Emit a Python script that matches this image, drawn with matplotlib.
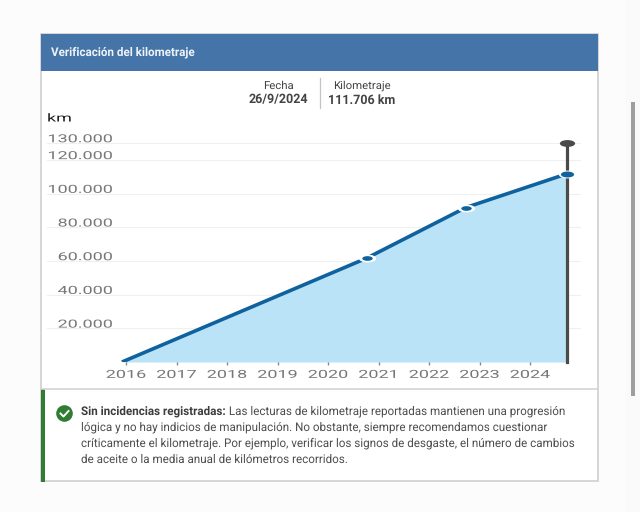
import matplotlib
matplotlib.use("Agg")

import matplotlib.pyplot as plt
from matplotlib.markers import MarkerStyle
from matplotlib.patches import Circle, Rectangle
from matplotlib.path import Path
from matplotlib.patheffects import AbstractPathEffect
from matplotlib.transforms import Affine2D

plt.rcParams["font.family"] = ["Roboto", "DejaVu Sans"]
plt.rcParams["text.hinting"] = "no_hinting"
plt.rcParams["text.hinting_factor"] = 8

# Datos
fechas = [2015.92, 2020.77, 2022.73, 2024.73]
km = [0, 61700, 91700, 111706]
km_max = 130000
años = [2016, 2017, 2018, 2019, 2020, 2021, 2022, 2023, 2024]
y_ticks = [0, 20000, 40000, 60000, 80000, 100000, 120000, 130000]
y_labels = ["", "20.000", "40.000", "60.000", "80.000", "100.000", "120.000", "130.000"]

texto_bold = "Sin incidencias registradas:"
lineas = [
    " Las lecturas de kilometraje reportadas mantienen una progresión",
    "lógica y no hay indicios de manipulación. No obstante, siempre recomendamos cuestionar",
    "críticamente el kilometraje. Por ejemplo, verificar los signos de desgaste, el número de cambios",
    "de aceite o la media anual de kilómetros recorridos.",
]

AZUL = "#0f629e"
GRIS = "#4a4a4a"
GRIS_EJE = "#777777"
ESTIRADO = 1.62  # la captura tiene los ejes estirados en horizontal


class Ancho(AbstractPathEffect):
    """Estira el texto en horizontal alrededor de x0 (pixeles)."""

    def __init__(self, x0, sx=ESTIRADO, dy=0):
        super().__init__()
        self.x0 = x0
        self.sx = sx
        self.dy = dy

    def draw_path(self, renderer, gc, tpath, affine, rgbFace=None):
        t = affine + Affine2D().translate(-self.x0, self.dy).scale(self.sx, 1).translate(self.x0, 0)
        renderer.draw_path(gc, tpath, t, rgbFace)


fig = plt.figure(figsize=(6.4, 5.12), dpi=100, facecolor="#fcfcfc")

# Capa de fondo en pixeles: tarjeta, cabecera, textos
bg = fig.add_axes([0, 0, 1, 1], zorder=0)
bg.set_xlim(0, 640)
bg.set_ylim(512, 0)
bg.axis("off")

bg.add_patch(Rectangle((41, 34), 557, 447, fc="white", ec="#cfcfcf", lw=1.2))
bg.add_patch(Rectangle((41, 34), 557, 36.5, fc="#4575a8", ec="none"))
bg.plot([41, 598], [389, 389], color="#d4d4d4", lw=1.2)
bg.add_patch(Rectangle((41, 389), 3.5, 92.5, fc="#2e7d32", ec="none"))

# Barra de scroll
bg.add_patch(Rectangle((625, 0), 15, 512, fc="#fafafa", ec="none"))
bg.add_patch(Rectangle((630.5, 102), 4.5, 294, fc="#9e9e9e", ec="none"))

bg.text(51, 52, "Verificación del kilometraje", color="#eef3f8", fontsize=8.4,
        fontweight="bold", va="center")

bg.text(278, 85.5, "Fecha", color="#444444", fontsize=8.2, ha="center", va="center")
bg.text(278, 100, "26/9/2024", color="#444444", fontsize=9.0, fontweight="bold",
        ha="center", va="center")
bg.plot([320, 320], [78, 108], color="#c4c4c4", lw=0.9)
bg.text(333, 85.5, "Kilometraje", color="#444444", fontsize=8.2, va="center")
bg.text(362, 100, "111.706 km", color="#444444", fontsize=9.0, fontweight="bold",
        ha="center", va="center")

bg.text(47, 118.5, "km", color="#222222", fontsize=8, va="center", path_effects=[Ancho(47)])

# Icono de ok
bg.add_patch(Circle((64.5, 413.5), 8.3, fc="#2e7d32", ec="none"))
bg.plot([60.5, 63.5, 68.5], [413.5, 416.5, 411], color="white", lw=1.4)

# Texto del aviso
TAM = 8.4
y_base = [414.5, 430.5, 446.5, 462.5]
t = bg.text(81, y_base[0], texto_bold, color="#3d3d3d", fontsize=TAM, fontweight="bold",
            va="baseline")
r = fig.canvas.get_renderer()
x_fin = bg.transData.inverted().transform(t.get_window_extent(r).max)[0]
bg.text(x_fin, y_base[0], lineas[0], color="#4d4d4d", fontsize=TAM, va="baseline")
for y, linea in zip(y_base[1:], lineas[1:]):
    bg.text(81, y, linea, color="#4d4d4d", fontsize=TAM, va="baseline")

# Grafica: 2016 en x=126, 50.5 px por año, y=0 en 362, 130000 en 143
ax = fig.add_axes([47 / 640, (512 - 362) / 512, 534 / 640, 219 / 512], zorder=1)
ax.patch.set_alpha(0)
ax.set_xlim(2016 - 79 / 50.5, 2016 + 455 / 50.5)
ax.set_ylim(0, km_max)
for s in ax.spines.values():
    s.set_visible(False)

ax.set_yticks(y_ticks)
ax.set_yticklabels(y_labels, color=GRIS_EJE, fontsize=8, va="bottom",
                   path_effects=[Ancho(113, dy=-1.5)])
ax.tick_params(axis="y", length=0, pad=-47.5)
ax.grid(axis="y", color="#f0f0f0", lw=0.8)
ax.set_axisbelow(True)

ax.set_xticks(años)
ax.set_xticklabels(años, color=GRIS_EJE, fontsize=8)
ax.tick_params(axis="x", direction="inout", length=5, width=1, color="#8a8a8a", pad=3)
for año, lab in zip(años, ax.get_xticklabels()):
    lab.set_path_effects([Ancho(ax.transData.transform((año, 0))[0])])

ax.fill_between(fechas, km, color="#bbe3f8", lw=0, zorder=2)
ax.plot(fechas, km, color=AZUL, lw=2.6, solid_capstyle="butt", zorder=3)

ax.plot([fechas[-1], fechas[-1]], [0, km_max], color=GRIS, lw=2.3, clip_on=False, zorder=4)

# Marcadores aplastados como en la captura
elipse = MarkerStyle(Path.unit_circle().transformed(Affine2D().scale(1, 0.45)))
ax.plot(fechas[1:], km[1:], ls="none", marker=elipse, ms=12.5, mfc="white", mec="none",
        clip_on=False, zorder=5)
ax.plot(fechas[1:3], km[1:3], ls="none", marker=elipse, ms=7.5, mfc=AZUL, mec="none",
        clip_on=False, zorder=6)
ax.plot(fechas[-1], km[-1], ls="none", marker=elipse, ms=9.5, mfc=AZUL, mec="none",
        clip_on=False, zorder=6)
ax.plot(fechas[-1], km_max, ls="none", marker=elipse, ms=11, mfc=GRIS, mec="none",
        clip_on=False, zorder=6)

fig.savefig("out.png", dpi=100)
